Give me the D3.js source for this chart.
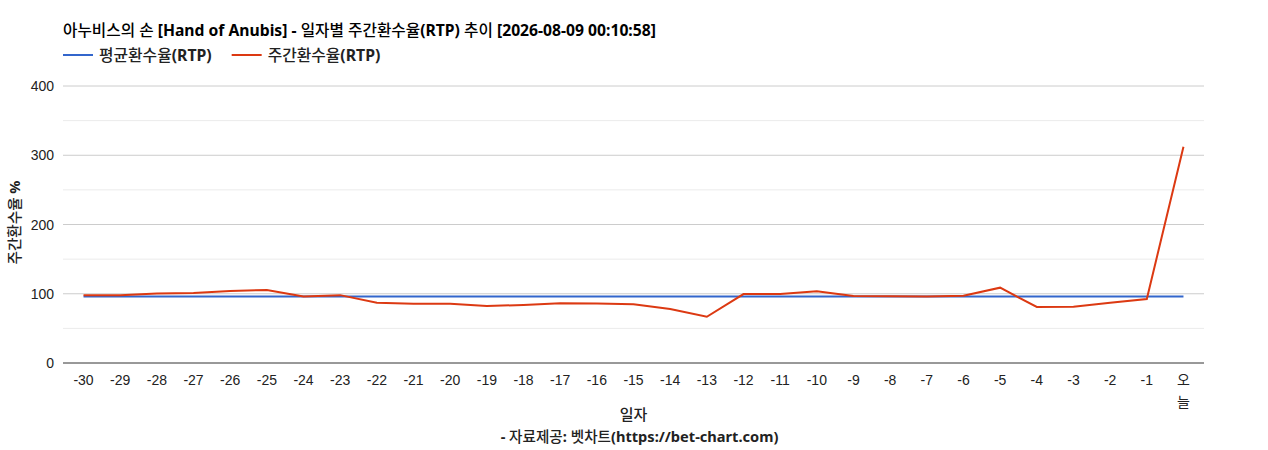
<!DOCTYPE html>
<html>
<head>
<meta charset="utf-8">
<script src="https://cdn.jsdelivr.net/npm/d3@7"></script>
<style>
  body { margin: 0; background: #fff; }
  svg text { font-family: 'Liberation Sans', Arial, 'Noto Sans CJK KR', sans-serif; }
  .heading { font-family: 'Noto Sans', 'Noto Sans CJK KR', sans-serif; }
  .ko { font-family: 'Noto Sans CJK KR', sans-serif; font-weight: 500; }
</style>
</head>
<body>
<div id="chart"></div>
<script>
const width = 1268
const height = 450
const margin = { top: 86, right: 64, bottom: 87, left: 63 }

const titleText = '아누비스의 손 [Hand of Anubis] - 일자별 주간환수율(RTP) 추이 [2026-08-09 00:10:58]'
const days = ['-30', '-29', '-28', '-27', '-26', '-25', '-24', '-23', '-22', '-21',
  '-20', '-19', '-18', '-17', '-16', '-15', '-14', '-13', '-12', '-11',
  '-10', '-9', '-8', '-7', '-6', '-5', '-4', '-3', '-2', '-1', '오늘']
const avgRtp = [96, 96, 96, 96, 96, 96, 96, 96, 96, 96,
  96, 96, 96, 96, 96, 96, 96, 96, 96, 96,
  96, 96, 96, 96, 96, 96, 96, 96, 96, 96, 96]
const weeklyRtp = [98, 98, 100.5, 101, 104, 105.5, 96, 98, 87, 85.5,
  85.5, 82.3, 83.8, 86.2, 86, 85, 78, 66.8, 99.6, 99.8,
  103.5, 96.8, 96.3, 96.2, 97.2, 108.8, 80.9, 81.2, 87, 92.4, 312.4]
const yTicks = [0, 100, 200, 300, 400]
const yMinorTicks = [50, 150, 250, 350]

const series = [
  { name: '평균환수율(RTP)', values: avgRtp, color: '#3366cc' },
  { name: '주간환수율(RTP)', values: weeklyRtp, color: '#dc3912' }
]

const svg = d3.select('#chart')
  .append('svg')
  .attr('width', width)
  .attr('height', height)

const x = d3.scalePoint()
  .domain(days)
  .range([margin.left, width - margin.right])
  .padding(0.56)

const y = d3.scaleLinear()
  .domain([0, 400])
  .range([height - margin.bottom, margin.top])

// korean runs drawn a bit lighter than the bold latin, like the original render
function mixedText(sel, str) {
  const parts = str.match(/[\uac00-\ud7a3]+|[^\uac00-\ud7a3]+/g)
  parts.forEach(p => {
    const t = sel.append('tspan').text(p)
    if (/[\uac00-\ud7a3]/.test(p)) t.attr('class', 'ko')
  })
  return sel
}

// gridlines
svg.append('g')
  .selectAll('line')
  .data(yMinorTicks)
  .enter()
  .append('line')
  .attr('x1', margin.left)
  .attr('x2', width - margin.right)
  .attr('y1', d => y(d))
  .attr('y2', d => y(d))
  .style('stroke', '#ebebeb')

svg.append('g')
  .selectAll('line')
  .data(yTicks.filter(d => d !== 0))
  .enter()
  .append('line')
  .attr('x1', margin.left)
  .attr('x2', width - margin.right)
  .attr('y1', d => y(d))
  .attr('y2', d => y(d))
  .style('stroke', '#cccccc')

// y tick labels
svg.append('g')
  .selectAll('text')
  .data(yTicks)
  .enter()
  .append('text')
  .attr('x', margin.left - 9)
  .attr('y', d => y(d) + 5)
  .attr('text-anchor', 'end')
  .style('font-size', '14px')
  .style('fill', '#222')
  .text(d => d)

// lines
const line = d3.line()
  .x((d, i) => x(days[i]))
  .y(d => y(d))

svg.append('g')
  .selectAll('path')
  .data(series)
  .enter()
  .append('path')
  .attr('d', d => line(d.values))
  .style('fill', 'none')
  .style('stroke', d => d.color)
  .style('stroke-width', 2)

// baseline
svg.append('line')
  .attr('x1', margin.left)
  .attr('x2', width - margin.right)
  .attr('y1', y(0))
  .attr('y2', y(0))
  .style('stroke', '#333')

// x tick labels
const xLabels = svg.append('g')
  .selectAll('text')
  .data(days)
  .enter()
  .append('text')
  .attr('x', d => x(d))
  .attr('y', y(0) + 22)
  .attr('text-anchor', 'middle')
  .style('font-size', '14px')
  .style('fill', '#222')

xLabels.each(function (d) {
  const t = d3.select(this)
  if (d === '오늘') {
    t.append('tspan').attr('x', x(d)).attr('dy', 0).text('오')
    t.append('tspan').attr('x', x(d)).attr('dy', 22).text('늘')
  } else {
    t.text(d)
  }
})

// title
svg.append('text')
  .attr('class', 'heading')
  .attr('x', margin.left)
  .attr('y', 36)
  .style('font-size', '15.7px')
  .style('font-weight', 'bold')
  .style('fill', '#000')
  .call(mixedText, titleText)

// legend
let legendX = margin.left
series.forEach(s => {
  svg.append('line')
    .attr('x1', legendX)
    .attr('x2', legendX + 30)
    .attr('y1', 55)
    .attr('y2', 55)
    .style('stroke', s.color)
    .style('stroke-width', 2)
  const label = svg.append('text')
    .attr('class', 'heading')
    .attr('x', legendX + 36)
    .attr('y', 60.5)
    .style('font-size', '15.8px')
    .style('font-weight', 'bold')
    .style('fill', '#222')
    .call(mixedText, s.name)
  legendX += 36 + label.node().getComputedTextLength() + 20
})

// axis titles
svg.append('text')
  .attr('class', 'heading')
  .attr('x', (margin.left + width - margin.right) / 2)
  .attr('y', 420)
  .attr('text-anchor', 'middle')
  .style('font-size', '15px')
  .style('font-weight', 'bold')
  .style('fill', '#222')
  .call(mixedText, '일자')

svg.append('text')
  .attr('class', 'heading')
  .attr('x', (margin.left + width - margin.right) / 2 + 6)
  .attr('y', 442)
  .attr('text-anchor', 'middle')
  .style('font-size', '14.6px')
  .style('font-weight', 'bold')
  .style('fill', '#222')
  .call(mixedText, '- 자료제공: 벳차트(https://bet-chart.com)')

svg.append('text')
  .attr('class', 'heading')
  .attr('transform', 'translate(20,' + (y(200) - 2) + ') rotate(-90)')
  .attr('text-anchor', 'middle')
  .style('font-size', '14.6px')
  .style('font-weight', 'bold')
  .style('fill', '#222')
  .call(mixedText, '주간환수율 %')
</script>
</body>
</html>
